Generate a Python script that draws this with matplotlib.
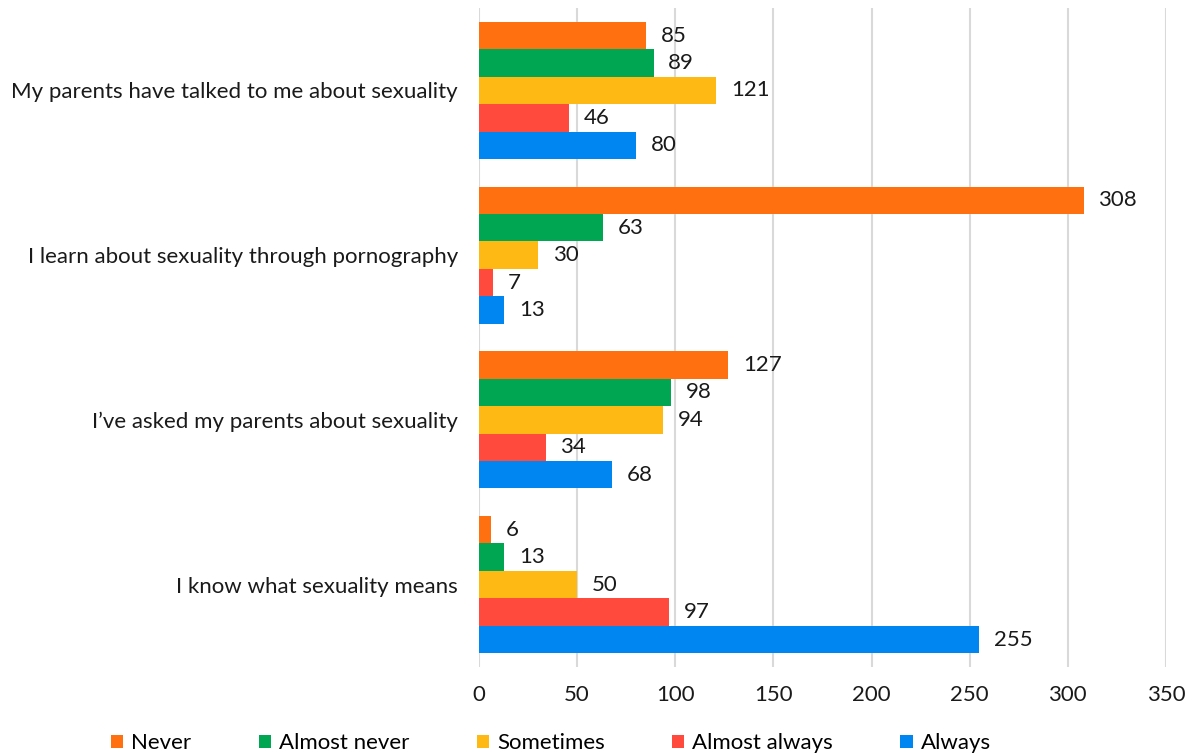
import numpy as np
import matplotlib
matplotlib.use("Agg")
import matplotlib.pyplot as plt

plt.rcParams['font.family'] = ['Lato', 'DejaVu Sans']

categories = [
    "My parents have talked to me about sexuality",
    "I learn about sexuality through pornography",
    "I\u2019ve asked my parents about sexuality",
    "I know what sexuality means",
]
series = ["Never", "Almost never", "Sometimes", "Almost always", "Always"]
never = [85, 308, 127, 6]
almost_never = [89, 63, 98, 13]
sometimes = [121, 30, 94, 50]
almost_always = [46, 7, 34, 97]
always = [80, 13, 68, 255]
colors = ["#FF7010", "#00A651", "#FFB914", "#FF4A3D", "#0086F0"]

values = [never, almost_never, sometimes, almost_always, always]
fs = 16

fig = plt.figure(figsize=(11.95, 7.56), dpi=100)
ax = fig.add_axes([0.4008, 0.1177, 0.5749, 0.8717])

n = len(series)
bar_h = 0.1665
y = np.arange(len(categories))
for i, (name, vals, c) in enumerate(zip(series, values, colors)):
    pos = y - (n - 1) / 2 * bar_h + i * bar_h
    bars = ax.barh(pos, vals, height=bar_h, color=c, label=name, zorder=3)
    for b, v in zip(bars, vals):
        ax.text(b.get_width() + 7.5, b.get_y() + b.get_height() / 2, str(v),
                va='center', ha='left', fontsize=fs, color='#1a1a1a', zorder=4)

ax.set_ylim(len(categories) - 0.5, -0.5)
ax.set_xlim(0, 350)
ax.set_xticks(np.arange(0, 351, 50))
ax.set_yticks(y)
ax.set_yticklabels(categories)
ax.tick_params(axis='both', length=0, labelsize=fs, colors='#1a1a1a')
ax.tick_params(axis='x', pad=13)
ax.tick_params(axis='y', pad=15)
ax.grid(axis='x', color='#d9d9d9', linewidth=1.5, zorder=0)
for s in ax.spines.values():
    s.set_visible(False)

fig.legend(loc='lower center', bbox_to_anchor=(0.461, -0.023), ncol=5, frameon=False,
           fontsize=fs, handlelength=0.55, handleheight=0.55, handletextpad=0.35,
           columnspacing=3.04)

fig.savefig("out.png", dpi=100)
